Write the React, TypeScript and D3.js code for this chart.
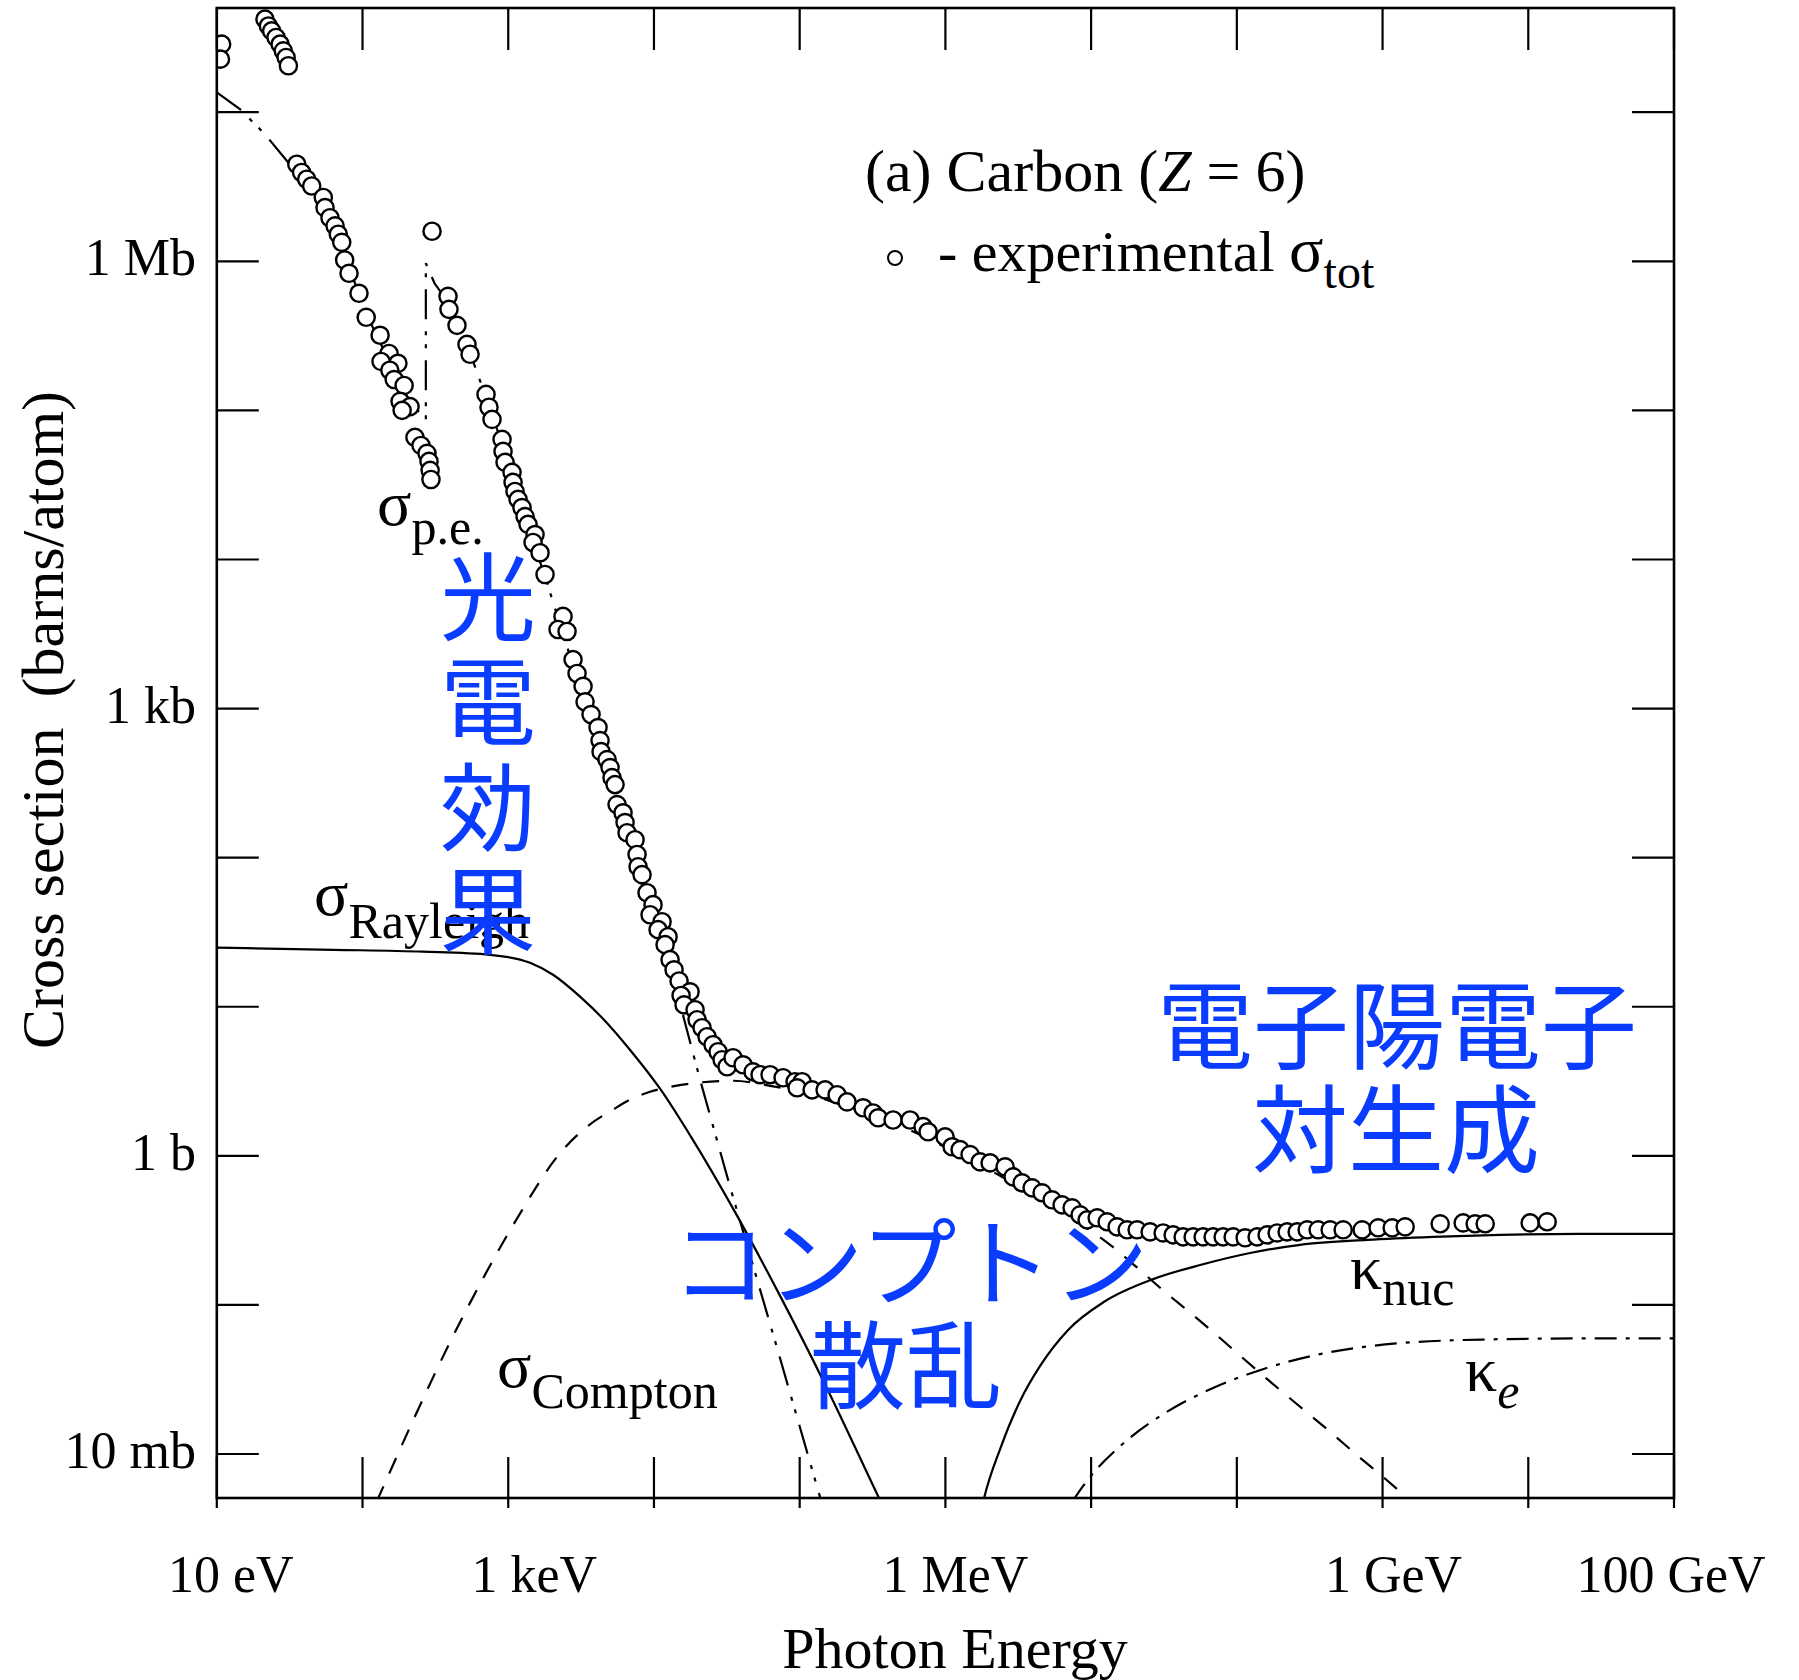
import React from 'react';
import * as d3 from 'd3';

// ---------- data (photon energy in eV, cross section in barns/atom) ----------
const xTickValues = [1e1, 1e2, 1e3, 1e4, 1e5, 1e6, 1e7, 1e8, 1e9, 1e10, 1e11];
const xLabelValues = [1e1, 1e3, 1e6, 1e9, 1e11];
const xLabelTexts = ['10 eV', '1 keV', '1 MeV', '1 GeV', '100 GeV'];
const yTickValues = [1e-2, 1e-1, 1e0, 1e1, 1e2, 1e3, 1e4, 1e5, 1e6, 1e7];
const yLabelValues = [1e6, 1e3, 1e0, 1e-2];
const yLabelTexts = ['1 Mb', '1 kb', '1 b', '10 mb'];

const sigmaTotExp: [number, number][] = [
  [10.8, 2.86e7], [10.6, 2.27e7],
  [21.4, 4.21e7], [22.6, 3.79e7], [23.8, 3.51e7], [25.5, 3.17e7], [27.2, 2.86e7], [28.6, 2.58e7], [29.9, 2.33e7], [31.0, 2.05e7],
  [35.4, 4.48e6], [38.2, 3.94e6], [41.4, 3.55e6], [44.8, 3.2e6], [53.8, 2.68e6], [55.3, 2.29e6], [59.8, 1.96e6], [64.8, 1.73e6],
  [68.2, 1.52e6], [72.0, 1.34e6], [75.4, 1.02e6], [80.8, 8.31e5], [94.6, 6.1e5], [106, 4.21e5], [132, 3.19e5], [152, 2.41e5],
  [134, 2.13e5], [175, 2.07e5], [154, 1.86e5], [165, 1.61e5], [193, 1.47e5], [181, 1.15e5], [212, 1.06e5], [187, 1.0e5],
  [229, 6.59e4], [252, 5.82e4], [277, 5.15e4], [286, 4.55e4], [291, 3.96e4], [295, 3.44e4],
  [300, 1.59e6],
  [386, 5.82e5], [392, 4.76e5], [445, 3.72e5], [521, 2.77e5], [547, 2.38e5], [704, 1.28e5], [738, 1.05e5], [774, 8.7e4],
  [907, 6.39e4], [921, 5.31e4], [951, 4.48e4], [1062, 3.84e4], [1079, 3.29e4], [1113, 2.86e4], [1168, 2.53e4], [1243, 2.23e4],
  [1304, 1.94e4], [1367, 1.72e4], [1527, 1.47e4], [1480, 1.3e4], [1653, 1.11e4], [1789, 7.93e3], [2377, 4.15e3], [2197, 3.39e3],
  [2533, 3.29e3], [2784, 2.13e3], [2966, 1.72e3], [3262, 1.41e3], [3366, 1.11e3], [3701, 912], [4133, 746], [4266, 610],
  [4335, 514], [4765, 455], [4996, 402], [5156, 344], [5408, 309], [5581, 227], [6137, 200], [6334, 172], [6538, 147],
  [7419, 132], [7656, 105], [7779, 87.0], [8284, 76.9], [8965, 58.2], [9858, 48.4], [9401, 41.4], [11370, 37.2], [10670, 32.9],
  [12500, 29.5], [11920, 26.1], [12900, 20.7], [13740, 17.7], [14870, 14.9], [17690, 12.6], [15350, 11.9], [16090, 10.3],
  [19150, 9.55], [19760, 8.18], [21380, 7.23], [23140, 6.29], [25440, 5.56], [27540, 4.99], [29340, 4.41], [31750, 3.96],
  [34910, 4.55], [40890, 4.08], [47880, 3.66], [53480, 3.5], [62650, 3.5], [76930, 3.34], [92990, 3.14], [103900, 3.14],
  [95960, 2.86], [121700, 2.77], [149400, 2.77], [180600, 2.57], [211500, 2.3], [272300, 2.1], [319000, 1.94], [345300, 1.8],
  [437500, 1.74], [572400, 1.74], [703000, 1.57], [760700, 1.45], [995200, 1.34], [1.112e6, 1.15], [1.262e6, 1.1], [1.477e6, 1.02],
  [1.73e6, 0.911], [2.027e6, 0.897], [2.568e6, 0.844], [2.915e6, 0.723], [3.361e6, 0.659], [3.936e6, 0.61], [4.611e6, 0.565],
  [5.399e6, 0.507], [6.322e6, 0.469], [7.405e6, 0.448], [8.405e6, 0.402], [9.387e6, 0.372], [1.1e7, 0.384], [1.288e7, 0.361],
  [1.508e7, 0.334], [1.767e7, 0.319], [2.069e7, 0.319], [2.54e7, 0.309], [3.12e7, 0.304], [3.655e7, 0.295], [4.28e7, 0.286],
  [5.013e7, 0.286], [5.872e7, 0.286], [6.877e7, 0.286], [8.054e7, 0.286], [9.433e7, 0.286], [1.14e8, 0.282], [1.378e8, 0.286],
  [1.614e8, 0.295], [1.891e8, 0.304], [2.214e8, 0.309], [2.594e8, 0.309], [3.038e8, 0.319], [3.614e8, 0.319], [4.369e8, 0.319],
  [5.366e8, 0.319], [7.244e8, 0.319], [9.328e8, 0.329], [1.164e9, 0.329], [1.429e9, 0.334], [2.485e9, 0.35], [3.574e9, 0.355],
  [4.32e9, 0.35], [5.061e9, 0.35], [1.03e10, 0.355], [1.348e10, 0.361],
];

const sigmaPE: [number, number][] = [
  [10, 1.36e7], [14.4, 1.05e7], [21.4, 7.12e6], [30.8, 4.62e6], [43.6, 3.29e6], [64.8, 1.69e6], [82.1, 8.84e5], [104, 4.62e5],
  [132, 2.86e5], [167, 1.75e5], [212, 1.15e5], [272, 8.57e4], [272, 9.7e5], [312, 7.12e5], [386, 5.31e5], [445, 3.72e5],
  [530, 2.65e5], [704, 1.22e5], [921, 5.73e4], [1113, 2.86e4], [1367, 1.67e4], [1789, 7.69e3], [2269, 3.66e3], [3641, 844],
  [5852, 194], [9401, 44.4], [15600, 9.26], [20720, 3.24], [33300, 0.619], [69980, 0.0514], [1.38e5, 5.14e-3], [1.75e5, 2.45e-3],
];

const sigmaRayleigh: [number, number][] = [
  [10, 24.9], [63.7, 24.1], [260, 23.4], [750, 22.3], [1411, 19.7], [2030, 16.4], [3110, 11.7], [4404, 8.44], [6748, 5.23],
  [11010, 2.82], [17970, 1.34], [36590, 0.408], [73370, 0.115], [149400, 0.0293], [373600, 4.44e-3], [4.89e5, 2.57e-3],
];

const sigmaCompton: [number, number][] = [
  [102, 3.09e-3], [129, 5.14e-3], [226, 0.0174], [399, 0.0564], [704, 0.164], [1224, 0.421], [2162, 0.985], [3529, 1.59],
  [5240, 2.04], [6853, 2.38], [9401, 2.69], [12900, 2.9], [19760, 3.09], [34910, 3.19], [62650, 2.95], [100600, 2.69],
  [221800, 2.1], [488900, 1.59], [1.077e6, 1.1], [2.374e6, 0.734], [4.466e6, 0.507], [8.405e6, 0.35], [1.35e7, 0.253],
  [2.004e7, 0.183], [3.219e7, 0.122], [4.706e7, 0.0898], [6.988e7, 0.0649], [1.021e8, 0.0469], [1.64e8, 0.0314],
  [2.677e8, 0.021], [4.3e8, 0.01427], [6.908e8, 9.55e-3], [1.01e9, 7.01e-3], [1.429e9, 5.23e-3], [1.811e9, 4.27e-3],
];

const kappaNuc: [number, number][] = [
  [1.651e6, 3.09e-3], [1.843e6, 5.06e-3], [2.374e6, 0.0108], [3.256e6, 0.0227], [4.466e6, 0.039], [6.953e6, 0.068],
  [1.228e7, 0.105], [2.663e7, 0.149], [5.686e7, 0.186], [1.234e8, 0.223], [2.719e8, 0.253], [7.841e8, 0.273],
  [2.224e9, 0.286], [6.414e9, 0.295], [2.166e10, 0.3], [1e11, 0.3],
];

const kappaE: [number, number][] = [
  [7.4e6, 4.76e-3], [8.405e6, 5.73e-3], [1.016e7, 7.29e-3], [1.659e7, 0.01176], [3.219e7, 0.01885], [6.988e7, 0.02794],
  [1.491e8, 0.03692], [3.911e8, 0.04725], [1.24e9, 0.05515], [5.14e9, 0.05867], [2.166e10, 0.05959], [1e11, 0.0596],
];

// ---------- layout / style ----------
const W = 1799;
const H = 1680;
const L = 216.8, R = 1674, T = 8, B = 1498;
const SERIF = "'Liberation Serif', 'Times New Roman', Times, serif";
const CJK = "'Noto Sans CJK JP', 'Noto Sans CJK SC', sans-serif";
const BLUE = '#0a3cff';
const xLabelNudge = [14, 26, 10, 11, -3];

export default function App() {
  const x = d3.scaleLog().domain([10, 1e11]).range([L, R]);
  const y = d3.scaleLog().domain([5.07e-3, 5.0e7]).range([B, T]);

  const line = (curve: d3.CurveFactory) =>
    d3.line<[number, number]>().x(d => x(d[0])).y(d => y(d[1])).curve(curve);

  const pePath = line(d3.curveLinear)(sigmaPE) || '';
  const rayPath = line(d3.curveMonotoneX)(sigmaRayleigh) || '';
  const comPath = line(d3.curveMonotoneX)(sigmaCompton) || '';
  const nucPath = line(d3.curveMonotoneX)(kappaNuc) || '';
  const kePath = line(d3.curveMonotoneX)(kappaE) || '';

  return (
    <svg
      width={W}
      height={H}
      viewBox={`0 0 ${W} ${H}`}
      style={{ position: 'absolute', left: 0, top: 0, display: 'block', background: '#fff' }}
      fontFamily={SERIF}
    >
      <defs>
        <clipPath id="plotClip">
          <rect x={L} y={T} width={R - L} height={B - T} />
        </clipPath>
      </defs>
      <rect x={0} y={0} width={W} height={H} fill="#fff" />

      {/* curves */}
      <g clipPath="url(#plotClip)" fill="none" stroke="#000" strokeWidth={2.2}>
        <path d={rayPath} />
        <path d={comPath} strokeDasharray="17,14" />
        <path d={pePath} strokeDasharray="30,12,4,9,4,12" />
        <path d={nucPath} />
        <path d={kePath} strokeDasharray="22,9,4,9" />
      </g>

      {/* experimental points */}
      <g clipPath="url(#plotClip)">
        {sigmaTotExp.map((d, i) => (
          <circle key={i} cx={x(d[0])} cy={y(d[1])} r={8.6} fill="#fff" stroke="#000" strokeWidth={2.4} />
        ))}
      </g>

      {/* frame */}
      <rect x={L} y={T} width={R - L} height={B - T} fill="none" stroke="#000" strokeWidth={2.6} />

      {/* ticks */}
      <g stroke="#000" strokeWidth={2.2}>
        {yTickValues.map((v, i) => (
          <g key={'yt' + i}>
            <line x1={L} x2={L + 42} y1={y(v)} y2={y(v)} />
            <line x1={R - 42} x2={R} y1={y(v)} y2={y(v)} />
          </g>
        ))}
        {xTickValues.map((v, i) => (
          <g key={'xt' + i}>
            <line x1={x(v)} x2={x(v)} y1={T} y2={T + 42} />
            <line x1={x(v)} x2={x(v)} y1={B - 41} y2={B + 10} />
          </g>
        ))}
      </g>

      {/* tick labels */}
      <g fontSize={52} fill="#000">
        {yLabelValues.map((v, i) => (
          <text key={'yl' + i} x={196} y={y(v) + 14} textAnchor="end">
            {yLabelTexts[i]}
          </text>
        ))}
        {xLabelValues.map((v, i) => (
          <text key={'xl' + i} x={x(v) + xLabelNudge[i]} y={1592} textAnchor="middle">
            {xLabelTexts[i]}
          </text>
        ))}
      </g>

      {/* axis titles */}
      <text x={955} y={1668} textAnchor="middle" fontSize={58}>Photon Energy</text>
      <text
        transform="translate(63,720) rotate(-90)"
        textAnchor="middle"
        fontSize={60}
        style={{ whiteSpace: 'pre' }}
      >
        {'Cross section  (barns/atom)'}
      </text>

      {/* title & legend */}
      <text x={865} y={191} fontSize={60}>
        (a) Carbon (<tspan fontStyle="italic">Z</tspan> = 6)
      </text>
      <circle cx={895} cy={258} r={7} fill="#fff" stroke="#000" strokeWidth={2} />
      <text x={938} y={271} fontSize={58} style={{ whiteSpace: 'pre' }}>
        {'- experimental '}
        <tspan fontSize={64}>σ</tspan>
        <tspan fontSize={48} dy={17}>tot</tspan>
      </text>

      {/* curve labels */}
      <text x={377} y={525} fontSize={64}>
        σ<tspan fontSize={50} dy={19}>p.e.</tspan>
      </text>
      <text x={314} y={915} fontSize={64}>
        σ<tspan fontSize={50} dy={23}>Rayleigh</tspan>
      </text>
      <text x={497} y={1387} fontSize={64}>
        σ<tspan fontSize={50} dy={21}>Compton</tspan>
      </text>
      <text x={1350} y={1289} fontSize={64}>
        κ<tspan fontSize={50} dy={16}>nuc</tspan>
      </text>
      <text x={1465} y={1391} fontSize={64}>
        κ<tspan fontSize={50} dy={17} fontStyle="italic">e</tspan>
      </text>

      {/* Japanese annotations */}
      <g fontFamily={CJK} fontSize={96} fill={BLUE} textAnchor="middle">
        <text x={488} y={633}>
          <tspan x={488}>光</tspan>
          <tspan x={488} dy={104}>電</tspan>
          <tspan x={488} dy={106}>効</tspan>
          <tspan x={488} dy={103}>果</tspan>
        </text>
        <text x={910} y={1298}>コンプトン</text>
        <text x={906} y={1401}>散乱</text>
        <text x={1397} y={1061}>電子陽電子</text>
        <text x={1396} y={1165}>対生成</text>
      </g>
    </svg>
  );
}
